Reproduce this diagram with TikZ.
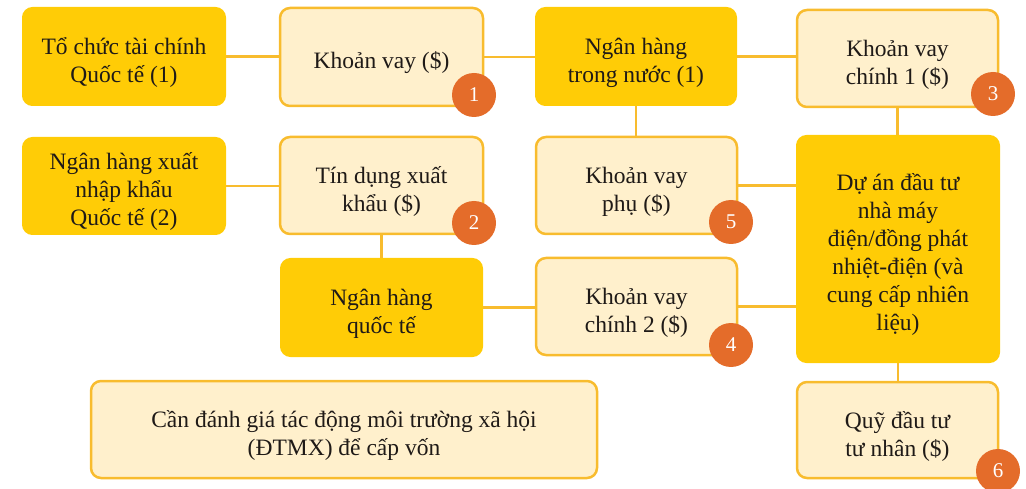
\documentclass[tikz,border=0pt]{standalone}
\usepackage{fontspec}
\setmainfont{Liberation Serif}
\definecolor{gold}{HTML}{FFCC06}
\definecolor{cream}{HTML}{FFF0CC}
\definecolor{edge}{HTML}{F8BC2E}
\definecolor{badgecol}{HTML}{E46C2A}
\definecolor{ink}{HTML}{1F1A17}
\newcommand\liftup{\rule{0pt}{29pt}}
\begin{document}
\begin{tikzpicture}[x=1pt,y=-1pt,
  base/.style={rounded corners=10pt, align=center, inner sep=0pt, text=ink,
    font=\fontsize{23.5}{28}\selectfont},
  dark/.style={base, fill=gold, draw=gold, line width=1pt},
  light/.style={base, fill=cream, draw=edge, line width=2.5pt},
  badge/.style={circle, fill=badgecol, text=white, minimum size=44pt, inner sep=0pt,
    font=\fontsize{21}{21}\selectfont},
  link/.style={draw=edge, line width=2.5pt}]
\useasboundingbox (0,0) rectangle (1026,489);
\node[dark, minimum width=203pt, minimum height=98pt] (b1) at (124,56.5) {\liftup Tổ chức tài chính\\Quốc tế (1)};
\node[light, minimum width=203pt, minimum height=98pt] (b2) at (381.5,57) {\liftup Khoản vay (\$)};
\node[dark, minimum width=203pt, minimum height=97pt] (b3) at (124,186) {\liftup Ngân hàng xuất\\nhập khẩu\\Quốc tế (2)};
\node[light, minimum width=203pt, minimum height=97pt] (b4) at (381.5,185.5) {\liftup Tín dụng xuất\\khẩu (\$)};
\node[dark, minimum width=201pt, minimum height=98pt] (b5) at (636,56.5) {\liftup Ngân hàng\\trong nước (1)};
\node[light, minimum width=201pt, minimum height=97pt] (b6) at (897.5,58.5) {\liftup Khoản vay\\chính 1 (\$)};
\node[light, minimum width=201pt, minimum height=97pt] (b7) at (636.5,185.5) {\liftup Khoản vay\\phụ (\$)};
\node[dark, minimum width=203pt, minimum height=227pt] (b8) at (898,249) {\liftup Dự án đầu tư\\nhà máy\\điện/đồng phát\\nhiệt-điện (và\\cung cấp nhiên\\liệu)};
\node[dark, minimum width=202pt, minimum height=98pt] (b9) at (381.5,307.5) {\liftup Ngân hàng\\quốc tế};
\node[light, minimum width=201pt, minimum height=97pt] (b10) at (636.5,306.5) {\liftup Khoản vay\\chính 2 (\$)};
\node[light, minimum width=506pt, minimum height=97pt] (b11) at (344,429.5) {\liftup Cần đánh giá tác động môi trường xã hội\\(ĐTMX) để cấp vốn};
\node[light, minimum width=201pt, minimum height=96pt] (b12) at (897.5,430) {\liftup Quỹ đầu tư\\tư nhân (\$)};
\draw[link] (b1.east) -- (b1.east -| b2.west);
\draw[link] (b2.east) -- (b2.east -| b5.west);
\draw[link] (b5.east) -- (b5.east -| b6.west);
\draw[link] (b3.east) -- (b3.east -| b4.west);
\draw[link] (b4.south) -- (b4.south |- b9.north);
\draw[link] (b5.south) -- (b5.south |- b7.north);
\draw[link] (b6.south) -- (b6.south |- b8.north);
\draw[link] (b7.east) -- (b7.east -| b8.west);
\draw[link] (b9.east) -- (b9.east -| b10.west);
\draw[link] (b10.east) -- (b10.east -| b8.west);
\draw[link] (b8.south) -- (b8.south |- b12.north);
\node[badge] (c1) at (474,95) {1};
\node[badge] (c2) at (474,223) {2};
\node[badge] (c3) at (993,94) {3};
\node[badge] (c4) at (731,345) {4};
\node[badge] (c5) at (731,222) {5};
\node[badge] (c6) at (998,471) {6};
\end{tikzpicture}
\end{document}
